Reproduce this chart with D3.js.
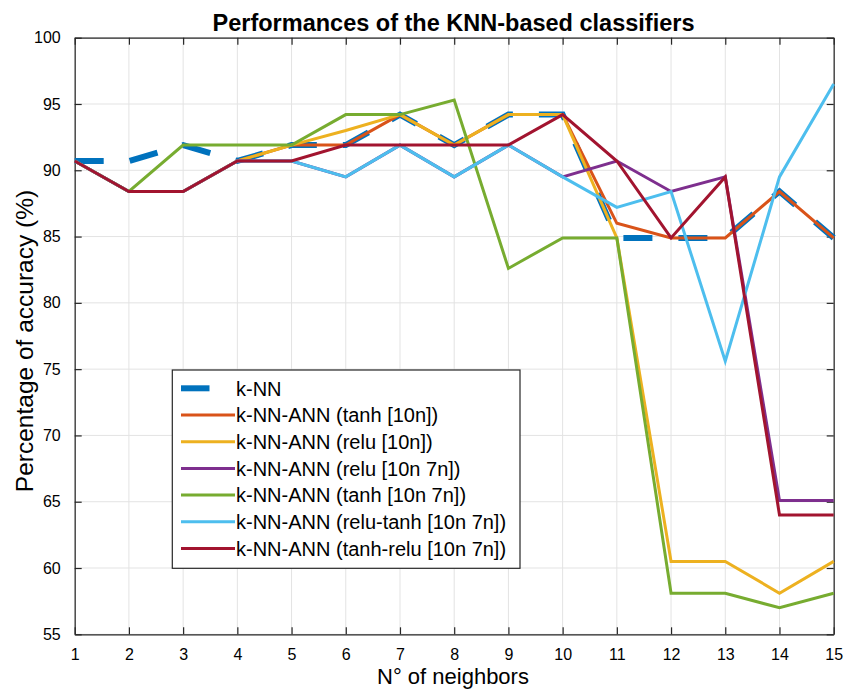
<!DOCTYPE html>
<html>
  <head>
    <script src="https://d3js.org/d3.v7.min.js"></script>
    <style>
      body { margin: 0; background: #fff; }
      text { font-family: "Liberation Sans", Arial, Helvetica, sans-serif; fill: #000; }
    </style>
  </head>
  <body>
    <div id="chart"></div>
    <script>
      // number of neighbours on the x axis
      const neighbors = [1, 2, 3, 4, 5, 6, 7, 8, 9, 10, 11, 12, 13, 14, 15];

      // accuracy (%) per classifier
      const knn        = [90.7, 90.7, 91.9, 90.7, 91.9, 91.9, 94.2, 91.9, 94.2, 94.2, 84.9, 84.9, 84.9, 88.4, 84.9];
      const tanh10     = [90.7, 88.4, 88.4, 90.7, 91.9, 91.9, 94.2, 91.9, 94.2, 94.2, 86.0, 84.9, 84.9, 88.4, 84.9];
      const relu10     = [90.7, 88.4, 88.4, 90.7, 91.9, 93.0, 94.2, 91.9, 94.2, 94.2, 84.9, 60.5, 60.5, 58.1, 60.5];
      const relu10_7   = [90.7, 88.4, 88.4, 90.7, 90.7, 89.5, 91.9, 89.5, 91.9, 89.5, 90.7, 88.4, 89.5, 65.1, 65.1];
      const tanh10_7   = [90.7, 88.4, 91.9, 91.9, 91.9, 94.2, 94.2, 95.3, 82.6, 84.9, 84.9, 58.1, 58.1, 57.0, 58.1];
      const reluTanh   = [90.7, 88.4, 88.4, 90.7, 90.7, 89.5, 91.9, 89.5, 91.9, 89.5, 87.2, 88.4, 75.6, 89.5, 96.5];
      const tanhRelu   = [90.7, 88.4, 88.4, 90.7, 90.7, 91.9, 91.9, 91.9, 91.9, 94.2, 90.7, 84.9, 89.5, 64.0, 64.0];

      const seriesNames = [
        'k-NN',
        'k-NN-ANN (tanh [10n])',
        'k-NN-ANN (relu [10n])',
        'k-NN-ANN (relu [10n 7n])',
        'k-NN-ANN (tanh [10n 7n])',
        'k-NN-ANN (relu-tanh [10n 7n])',
        'k-NN-ANN (tanh-relu [10n 7n])'
      ];
      const seriesValues = [knn, tanh10, relu10, relu10_7, tanh10_7, reluTanh, tanhRelu];
      const colors = ['#0072BD', '#D95319', '#EDB120', '#7E2F8E', '#77AC30', '#4DBEEE', '#A2142F'];

      const yTicks = [55, 60, 65, 70, 75, 80, 85, 90, 95, 100];

      const width = 845, height = 690;
      const margin = { top: 37.7, right: 11.3, bottom: 55.7, left: 74.7 };
      const plotW = width - margin.left - margin.right;
      const plotH = height - margin.top - margin.bottom;

      const svg = d3.select('#chart').append('svg')
        .attr('width', width)
        .attr('height', height);

      const x = d3.scaleLinear().domain([1, 15]).range([margin.left, margin.left + plotW]);
      const y = d3.scaleLinear().domain([55, 100]).range([margin.top + plotH, margin.top]);

      // grid
      svg.append('g')
        .selectAll('line.vgrid')
        .data(neighbors)
        .join('line')
        .attr('x1', d => x(d)).attr('x2', d => x(d))
        .attr('y1', y(55)).attr('y2', y(100))
        .attr('stroke', '#e3e3e3').attr('stroke-width', 1);

      svg.append('g')
        .selectAll('line.hgrid')
        .data(yTicks)
        .join('line')
        .attr('x1', x(1)).attr('x2', x(15))
        .attr('y1', d => y(d)).attr('y2', d => y(d))
        .attr('stroke', '#e3e3e3').attr('stroke-width', 1);

      // axes with inward ticks on every side
      const tickLen = 7;
      const axisColor = '#262626';

      const xAxisBottom = svg.append('g')
        .attr('transform', `translate(0,${y(55)})`)
        .call(d3.axisBottom(x).tickValues(neighbors).tickFormat(d3.format('d')).tickSizeInner(-tickLen).tickSizeOuter(0).tickPadding(14));
      const xAxisTop = svg.append('g')
        .attr('transform', `translate(0,${y(100)})`)
        .call(d3.axisTop(x).tickValues(neighbors).tickFormat('').tickSizeInner(-tickLen).tickSizeOuter(0));
      const yAxisLeft = svg.append('g')
        .attr('transform', `translate(${x(1)},0)`)
        .call(d3.axisLeft(y).tickValues(yTicks).tickSizeInner(-tickLen).tickSizeOuter(0).tickPadding(14));
      const yAxisRight = svg.append('g')
        .attr('transform', `translate(${x(15)},0)`)
        .call(d3.axisRight(y).tickValues(yTicks).tickFormat('').tickSizeInner(-tickLen).tickSizeOuter(0));

      [xAxisBottom, xAxisTop, yAxisLeft, yAxisRight].forEach(g => {
        g.select('.domain').attr('stroke', axisColor).attr('stroke-width', 1.2);
        g.selectAll('.tick line').attr('stroke', axisColor).attr('stroke-width', 1.2);
        g.selectAll('.tick text')
          .attr('font-size', 16)
          .attr('font-family', '"Liberation Sans", Arial, Helvetica, sans-serif')
          .attr('fill', '#262626');
      });

      // series lines
      const line = d3.line()
        .x((d, i) => x(neighbors[i]))
        .y(d => y(d));

      seriesValues.forEach((vals, i) => {
        const path = svg.append('path')
          .datum(vals)
          .attr('d', line)
          .attr('fill', 'none')
          .attr('stroke', colors[i])
          .attr('stroke-linejoin', 'miter')
          .attr('stroke-width', i === 0 ? 6 : 3);
        if (i === 0) {
          path.attr('stroke-dasharray', '29,26');
        }
      });

      // title and axis labels
      svg.append('text')
        .attr('x', 453.5)
        .attr('y', 31)
        .attr('text-anchor', 'middle')
        .attr('font-size', 23.5)
        .attr('font-weight', 'bold')
        .text('Performances of the KNN-based classifiers');

      svg.append('text')
        .attr('x', 453)
        .attr('y', 684)
        .attr('text-anchor', 'middle')
        .attr('font-size', 22)
        .attr('fill', '#262626')
        .text('N° of neighbors');

      svg.append('text')
        .attr('transform', 'translate(33,341) rotate(-90)')
        .attr('text-anchor', 'middle')
        .attr('font-size', 24.5)
        .attr('fill', '#262626')
        .text('Percentage of accuracy (%)');

      // legend
      const legend = svg.append('g');
      legend.append('rect')
        .attr('x', 172.3)
        .attr('y', 370)
        .attr('width', 347.7)
        .attr('height', 198.3)
        .attr('fill', '#fff')
        .attr('stroke', axisColor)
        .attr('stroke-width', 1.2);

      seriesNames.forEach((name, i) => {
        const cy = 388.3 + i * 26.7;
        legend.append('line')
          .attr('x1', 181)
          .attr('x2', i === 0 ? 209.5 : 235)
          .attr('y1', cy).attr('y2', cy)
          .attr('stroke', colors[i])
          .attr('stroke-width', i === 0 ? 6 : 3);
        legend.append('text')
          .attr('x', 236)
          .attr('y', cy + 7.2)
          .attr('font-size', 20)
          .text(name);
      });
    </script>
  </body>
</html>
